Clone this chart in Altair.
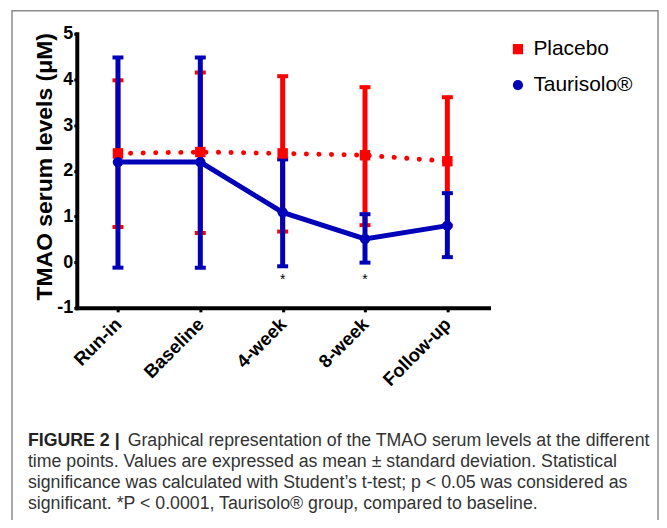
import altair as alt
import pandas as pd

# ---------------- data ----------------
times = ["Run-in", "Baseline", "4-week", "8-week", "Follow-up"]
placebo_mean = [2.38, 2.41, 2.38, 2.34, 2.21]
placebo_upper = [3.98, 4.15, 4.07, 3.83, 3.61]
placebo_lower = [0.77, 0.64, 0.67, 0.81, 0.80]
taur_mean = [2.19, 2.19, 1.09, 0.51, 0.80]
taur_upper = [4.48, 4.48, 2.25, 1.05, 1.51]
taur_lower = [-0.12, -0.12, -0.09, -0.01, 0.11]
groups = ["Placebo", "Taurisolo®"]
sig_times = ["4-week", "8-week"]
sig_level = [-0.38, -0.38]
y_ticks = [-1, 0, 1, 2, 3, 4, 5]
caption_bold = "FIGURE 2 |"
caption_lines = [
    "Graphical representation of the TMAO serum levels at the different",
    "time points. Values are expressed as mean \u00b1 standard deviation. Statistical",
    "significance was calculated with Student\u2019s t-test; p < 0.05 was considered as",
    "significant. *P < 0.0001, Taurisolo\u00ae group, compared to baseline.",
]

RED = "#ff0000"
BLUE = "#0000b8"
FONT = "Liberation Sans"

pl = pd.DataFrame({"time": times, "mean": placebo_mean, "lo": placebo_lower,
                   "hi": placebo_upper, "group": groups[0]})
ta = pd.DataFrame({"time": times, "mean": taur_mean, "lo": taur_lower,
                   "hi": taur_upper, "group": groups[1]})
both = pd.concat([pl, ta], ignore_index=True)
sig = pd.DataFrame({"time": sig_times, "y": sig_level, "t": ["*"] * len(sig_times)})

x_enc = alt.X("time:N", sort=times,
              scale=alt.Scale(type="point", domain=times, padding=0.5),
              axis=alt.Axis(title=None, labelAngle=-45, labelAlign="right",
                            labelBaseline="middle", labelFontSize=18.5,
                            labelFontWeight="bold", labelPadding=9,
                            tickSize=4, tickWidth=3, tickColor="black",
                            domainWidth=4, domainColor="black",
                            labelColor="black", labelFont=FONT))
y_scale = alt.Scale(domain=[-1, 5], nice=False, zero=False)
y_axis = alt.Axis(values=y_ticks, labelExpr="'' + datum.value",
                  labelFontSize=18, labelFontWeight="bold", labelFont=FONT,
                  labelColor="black", labelPadding=1, tickSize=3, tickWidth=3,
                  tickColor="black", domainWidth=4, domainColor="black",
                  grid=False, title="TMAO serum levels (\u03bcM)",
                  titleFontSize=23, titleFontWeight="bold", titleFont=FONT,
                  titleColor="black", titleX=-32, titleY=133, titleAngle=270,
                  titleAlign="center", titleBaseline="middle")


def bars(df, color):
    base = alt.Chart(df)
    rule = base.mark_rule(color=color, strokeWidth=5).encode(
        x=x_enc, y=alt.Y("lo:Q", scale=y_scale, axis=y_axis), y2="hi:Q")
    cap_hi = base.mark_tick(color=color, thickness=4, size=11, opacity=1).encode(
        x=x_enc, y=alt.Y("hi:Q", scale=y_scale))
    cap_lo = base.mark_tick(color=color, thickness=4, size=11, opacity=1).encode(
        x=x_enc, y=alt.Y("lo:Q", scale=y_scale))
    return rule + cap_hi + cap_lo


pl_line = alt.Chart(pl).mark_line(color=RED, strokeWidth=5, strokeDash=[0.1, 12.5],
                                  strokeCap="round").encode(
    x=x_enc, y=alt.Y("mean:Q", scale=y_scale))
ta_line = alt.Chart(ta).mark_line(color=BLUE, strokeWidth=5).encode(
    x=x_enc, y=alt.Y("mean:Q", scale=y_scale))

points = alt.Chart(both).mark_point(filled=True, opacity=1, size=110).encode(
    x=x_enc, y=alt.Y("mean:Q", scale=y_scale),
    color=alt.Color("group:N", scale=alt.Scale(domain=groups, range=[RED, BLUE]),
                    legend=alt.Legend(title=None, orient="none", legendX=432,
                                      legendY=5, labelFontSize=21, labelFont=FONT,
                                      labelColor="black", symbolSize=105,
                                      rowPadding=14, labelOffset=5,
                                      symbolStrokeWidth=0)),
    shape=alt.Shape("group:N", scale=alt.Scale(domain=groups,
                                               range=["square", "circle"]),
                    legend=None),
)

stars = alt.Chart(sig).mark_text(fontSize=14, color="black", font=FONT,
                                 baseline="middle").encode(
    x=x_enc, y=alt.Y("y:Q", scale=y_scale), text="t:N")

frame = alt.Chart(pd.DataFrame({"k": [0]})).mark_rect(
    fill="transparent", stroke="#8c8c8c", strokeWidth=1.5).encode(
    x=alt.value(-65), x2=alt.value(583), y=alt.value(-23), y2=alt.value(540))

cap_b = alt.Chart(pd.DataFrame({"t": [caption_bold]})).mark_text(
    align="left", baseline="middle", fontSize=17.8, fontWeight="bold",
    font=FONT, color="#222222").encode(
    x=alt.value(-49), y=alt.value(409), text="t:N")

cap_rows = []
for i, line in enumerate(caption_lines):
    cap_rows.append(alt.Chart(pd.DataFrame({"t": [line]})).mark_text(
        align="left", baseline="middle", fontSize=17.8, font=FONT,
        color="#333333").encode(
        x=alt.value(51 if i == 0 else -49), y=alt.value(409 + 21 * i),
        text="t:N"))

chart = alt.layer(
    frame,
    bars(pl, RED), pl_line,
    bars(ta, BLUE), ta_line,
    points, stars, cap_b, *cap_rows,
).properties(
    width=413, height=275,
    autosize=alt.AutoSizeParams(type="none"),
    padding={"left": 69, "top": 25, "right": 171, "bottom": 212},
).configure_view(stroke=None).configure_axis(domainCap="square")

chart.save("out.html", embed_options={"renderer": "svg", "actions": False})
